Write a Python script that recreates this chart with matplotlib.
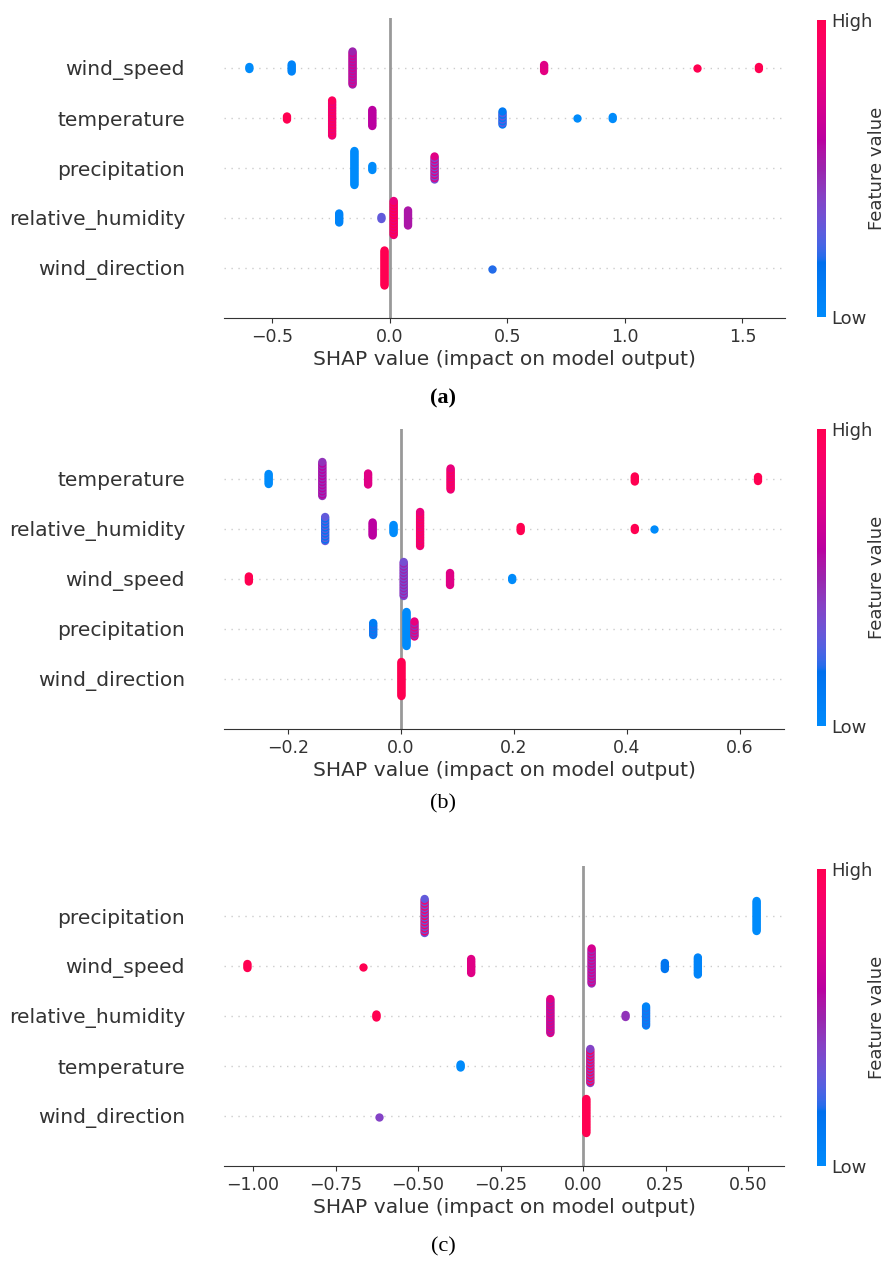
import numpy as np
import matplotlib
matplotlib.use("Agg")
import matplotlib.pyplot as plt
from matplotlib.colors import LinearSegmentedColormap, Normalize
from matplotlib.colorbar import ColorbarBase

# ---- data ----
# each cluster: shap value, half-height of the stacked dots (rows), feature value colour pair (0=low, 1=high)
a_features = ["wind_speed", "temperature", "precipitation", "relative_humidity", "wind_direction"]
a_shap = [[-0.598, -0.418, -0.159, 0.656, 1.308, 1.570],
          [-0.438, -0.246, -0.075, 0.479, 0.795, 0.948],
          [-0.151, -0.075, 0.190],
          [-0.216, -0.036, 0.016, 0.077],
          [-0.023, 0.434]]
a_spread = [[0.02, 0.07, 0.33, 0.06, 0.0, 0.02],
            [0.03, 0.35, 0.16, 0.13, 0.0, 0.02],
            [0.34, 0.04, 0.23],
            [0.09, 0.02, 0.34, 0.15],
            [0.35, 0.01]]
a_fval = [[(0.0, 0.0), (0.05, 0.05), (0.5, 0.7), (0.75, 0.8), (1.0, 1.0), (1.0, 1.0)],
          [(1.0, 1.0), (0.8, 0.95), (0.6, 0.6), (0.12, 0.3), (0.0, 0.0), (0.0, 0.0)],
          [(0.0, 0.0), (0.0, 0.0), (0.35, 0.75)],
          [(0.05, 0.05), (0.3, 0.3), (0.8, 1.0), (0.55, 0.55)],
          [(1.0, 1.0), (0.2, 0.2)]]
a_xticks = [-0.5, 0.0, 0.5, 1.0, 1.5]
a_xlim = (-0.706, 1.681)

b_features = ["temperature", "relative_humidity", "wind_speed", "precipitation", "wind_direction"]
b_shap = [[-0.234, -0.139, -0.058, 0.088, 0.414, 0.632],
          [-0.134, -0.050, -0.013, 0.034, 0.212, 0.414, 0.448],
          [-0.269, 0.005, 0.087, 0.197],
          [-0.049, 0.010, 0.024],
          [0.001]]
b_spread = [[0.10, 0.34, 0.11, 0.21, 0.05, 0.04],
            [0.24, 0.13, 0.08, 0.34, 0.04, 0.02, 0.01],
            [0.05, 0.34, 0.12, 0.02],
            [0.12, 0.34, 0.15],
            [0.34]]
b_fval = [[(0.0, 0.0), (0.45, 0.6), (0.75, 0.75), (0.8, 0.95), (1.0, 1.0), (1.0, 1.0)],
          [(0.3, 0.15), (0.6, 0.6), (0.0, 0.0), (0.8, 0.95), (1.0, 1.0), (1.0, 1.0), (0.0, 0.0)],
          [(1.0, 1.0), (0.35, 0.5), (0.75, 0.75), (0.0, 0.0)],
          [(0.1, 0.2), (0.0, 0.0), (0.8, 0.45)],
          [(1.0, 1.0)]]
b_xticks = [-0.2, 0.0, 0.2, 0.4, 0.6]
b_xlim = (-0.313, 0.678)

c_features = ["precipitation", "wind_speed", "relative_humidity", "temperature", "wind_direction"]
c_shap = [[-0.480, 0.526],
          [-1.017, -0.666, -0.339, 0.026, 0.248, 0.348],
          [-0.626, -0.099, 0.129, 0.191],
          [-0.371, 0.022],
          [-0.618, 0.010]]
c_spread = [[0.34, 0.30],
            [0.04, 0.01, 0.14, 0.35, 0.06, 0.17],
            [0.03, 0.34, 0.02, 0.19],
            [0.03, 0.34],
            [0.01, 0.34]]
c_fval = [[(0.3, 0.9), (0.0, 0.0)],
          [(1.0, 1.0), (1.0, 1.0), (0.75, 0.75), (0.45, 0.7), (0.15, 0.15), (0.05, 0.05)],
          [(1.0, 1.0), (0.75, 0.55), (0.45, 0.45), (0.05, 0.2)],
          [(0.0, 0.0), (0.4, 0.95)],
          [(0.4, 0.4), (1.0, 1.0)]]
c_xticks = [-1.0, -0.75, -0.5, -0.25, 0.0, 0.25, 0.5]
c_xlim = (-1.088, 0.609)


# shap's red_blue colormap (interpolated in LCH space)
def lch2rgb(l, c, h):
    a, b = c * np.cos(h), c * np.sin(h)
    fy = (l + 16) / 116
    fx, fz = a / 500 + fy, fy - b / 200
    f = np.array([fx, fy, fz])
    xyz = np.where(f > 0.2068966, f ** 3, (f - 16 / 116) / 7.787) * np.array([0.95047, 1.0, 1.08883])
    m = np.array([[3.2406, -1.5372, -0.4986], [-0.9689, 1.8758, 0.0415], [0.0557, -0.2040, 1.0570]])
    rgb = m @ xyz
    rgb = np.where(rgb > 0.0031308, 1.055 * np.abs(rgb) ** (1 / 2.4) - 0.055, 12.92 * rgb)
    return np.clip(rgb, 0, 1)


nsteps = 100
l_vals = list(np.linspace(54., 40., nsteps // 2)) + list(np.linspace(40., 54., nsteps // 2))
c_vals = np.linspace(70., 90., nsteps)
h_vals = np.linspace(4.6588, 0.35470565 + 2 * np.pi, nsteps)
red_blue = LinearSegmentedColormap.from_list(
    "red_blue", [lch2rgb(l, c, h) for l, c, h in zip(l_vals, c_vals, h_vals)])

txt = "#333333"
W, H = 886, 1261
fig = plt.figure(figsize=(W / 100, H / 100), dpi=100)


def px_rect(left, top, right, bottom):
    return [left / W, 1 - bottom / H, (right - left) / W, (bottom - top) / H]


def draw_panel(rect, crect, features, shap_vals, spreads, fvals, xticks, xlim):
    ax = fig.add_axes(px_rect(*rect))
    n = len(features)
    for i, feat in enumerate(features):
        y0 = n - 1 - i
        ax.axhline(y0, color="#cccccc", lw=1.0, dashes=(1, 4), zorder=-1)
        for v, sp, (c1, c2) in zip(shap_vals[i], spreads[i], fvals[i]):
            k = int(sp / 0.015) + 1
            ys = y0 + np.linspace(-sp, sp, k)
            cols = [c1 if j % 2 == 0 else c2 for j in range(k)]
            ax.scatter(np.full(k, v), ys, c=cols, cmap=red_blue, vmin=0, vmax=1,
                       s=36, linewidths=0, zorder=3)
    ax.axvline(0, color="#999999", lw=2, zorder=-1)
    ax.set_ylim(-1, n)
    ax.set_xlim(*xlim)
    ax.set_yticks(range(n))
    ax.set_yticklabels(features[::-1], fontsize=14.6, color=txt)
    ax.set_xticks(xticks)
    ax.tick_params("y", length=0, pad=28)
    ax.tick_params("x", labelsize=12.5, color=txt, labelcolor=txt)
    for s in ["top", "right", "left"]:
        ax.spines[s].set_visible(False)
    ax.spines["bottom"].set_color(txt)
    ax.set_xlabel("SHAP value (impact on model output)", fontsize=14.6, color=txt, labelpad=3)

    cax = fig.add_axes(px_rect(*crect))
    cb = ColorbarBase(cax, cmap=red_blue, norm=Normalize(0, 1), ticks=[0, 1])
    cb.set_ticklabels(["Low", "High"])
    cb.outline.set_visible(False)
    cax.tick_params(length=0, labelsize=13, labelcolor=txt)
    cb.set_label("Feature value", size=13, color=txt, labelpad=-3)
    return ax


draw_panel((224, 18, 785, 318), (817, 20, 826, 317), a_features, a_shap, a_spread, a_fval, a_xticks, a_xlim)
draw_panel((224, 429, 784, 729), (817, 429, 826, 726), b_features, b_shap, b_spread, b_fval, b_xticks, b_xlim)
draw_panel((224, 866, 784, 1166), (817, 869, 826, 1166), c_features, c_shap, c_spread, c_fval, c_xticks, c_xlim)

serif = ["Liberation Serif", "DejaVu Serif"]
fig.text(443 / W, 1 - 398 / H, "(a)", ha="center", va="center", fontsize=16, fontweight="bold", family=serif)
fig.text(443 / W, 1 - 804 / H, "(b)", ha="center", va="center", fontsize=16, family=serif)
fig.text(443 / W, 1 - 1247 / H, "(c)", ha="center", va="center", fontsize=16, family=serif)

fig.savefig("out.png", dpi=100)
